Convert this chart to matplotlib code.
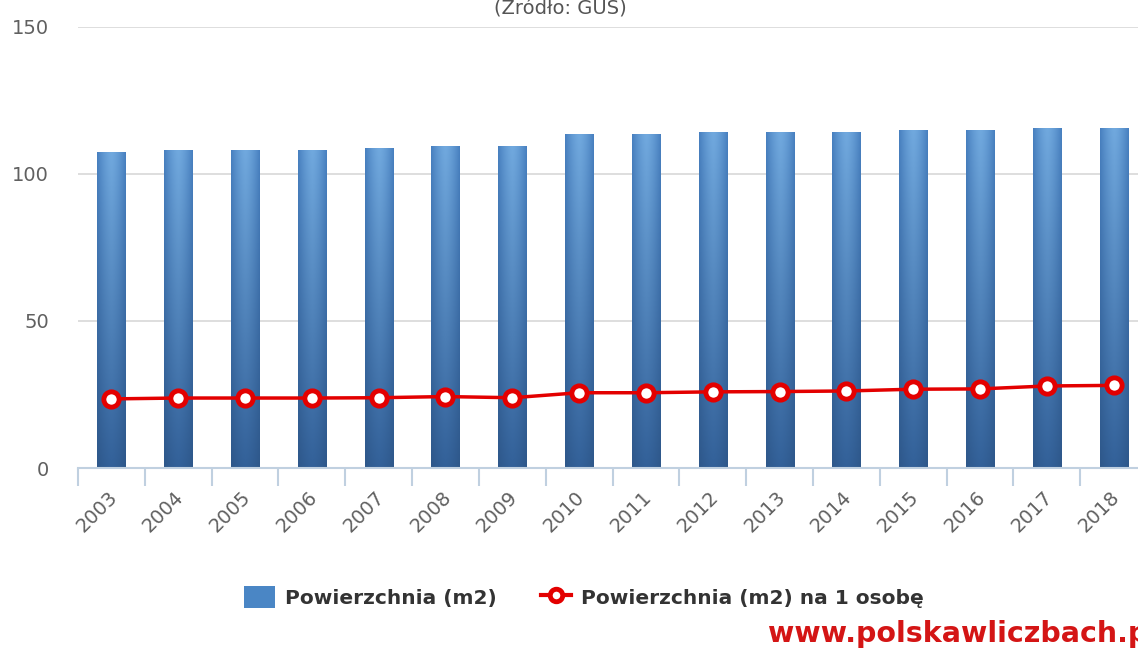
import numpy as np
import matplotlib.pyplot as plt
from matplotlib.lines import Line2D
from matplotlib.patches import Patch
from matplotlib.transforms import ScaledTranslation

# data
years = ["2003", "2004", "2005", "2006", "2007", "2008", "2009", "2010",
         "2011", "2012", "2013", "2014", "2015", "2016", "2017", "2018"]
area = [107.6, 108.3, 108.3, 108.3, 108.9, 109.6, 109.6, 113.6,
        113.6, 114.3, 114.3, 114.3, 115.0, 115.0, 115.7, 115.7]
area_per_person = [23.5, 23.8, 23.8, 23.8, 23.9, 24.3, 23.9, 25.6,
                   25.6, 25.9, 26.0, 26.2, 26.8, 26.9, 27.9, 28.1]
yticks = [0, 50, 100, 150]

fig = plt.figure(figsize=(11.38, 6.48), dpi=100)
ax = fig.add_axes([78 / 1138, 1 - 468 / 648, 1069 / 1138, 441 / 648])

x = np.arange(len(years))
bars = ax.bar(x, area, width=0.42, color="#4a86c5", zorder=2)

# gradient fill for the bars (light in the middle, darker at edges and bottom)
h = np.linspace(0, 1, 64)
v = np.linspace(0, 1, 64)
edge = np.abs(h - 0.5) * 2
top = np.array([0.44, 0.66, 0.87])
side = np.array([0.28, 0.50, 0.75])
bottom = np.array([0.20, 0.38, 0.60])
grad = np.zeros((64, 64, 3))
for i, t in enumerate(v):  # t=0 bottom, 1 top
    centre = bottom + (top - bottom) * t
    edgec = bottom * 0.9 + (side - bottom * 0.9) * t
    grad[i] = centre[None, :] * (1 - edge[:, None] ** 1.5) + edgec[None, :] * edge[:, None] ** 1.5
for b in bars:
    im = ax.imshow(grad, origin="lower", aspect="auto", zorder=2.1,
                   extent=[b.get_x(), b.get_x() + b.get_width(), 0, b.get_height()])
    im.set_clip_path(b)

ax.plot(x, area_per_person, color="#e30000", lw=2.5, zorder=3,
        marker="o", markersize=11, markerfacecolor="white",
        markeredgecolor="#e30000", markeredgewidth=3.5)

ax.set_xlim(-0.5, len(years) - 0.5)
ax.set_ylim(0, 150)
ax.set_yticks(yticks)
ax.grid(axis="y", color="#d8d8d8", lw=1.2, zorder=0)
ax.set_axisbelow(True)
for s in ["top", "right", "left"]:
    ax.spines[s].set_visible(False)
ax.spines["bottom"].set_color("#c0d0e0")
ax.spines["bottom"].set_linewidth(1.5)
ax.spines["bottom"].set_zorder(4)

ax.tick_params(axis="y", length=0, pad=21, labelsize=14, labelcolor="#606060")
ax.set_xticks(x)
ax.set_xticklabels(years, rotation=45, ha="right", rotation_mode="anchor",
                   fontsize=14, color="#606060")
ax.tick_params(axis="x", which="major", length=0, pad=14)
for lab in ax.get_xticklabels():
    lab.set_transform(lab.get_transform() + ScaledTranslation(-0.04, 0, fig.dpi_scale_trans))
ax.set_xticks(np.arange(-0.5, len(years)), minor=True)
ax.tick_params(axis="x", which="minor", length=13, width=1.5, color="#c0d0e0")

fig.text(560 / 1138, 1 - 7 / 648, "(Źródło: GUS)", ha="center", va="center",
         fontsize=14, color="#555555")

handles = [Patch(facecolor="#4a86c5", edgecolor="none"),
           Line2D([], [], color="#e30000", lw=3, marker="o", markersize=9,
                  markerfacecolor="white", markeredgecolor="#e30000", markeredgewidth=3.5)]
leg = fig.legend(handles, ["Powierzchnia (m2)", "Powierzchnia (m2) na 1 osobę"],
                 loc="center", bbox_to_anchor=(584 / 1138, 1 - 597 / 648),
                 ncol=2, frameon=False, handlelength=1.5, handleheight=1.3,
                 columnspacing=2.2, handletextpad=0.5,
                 prop={"size": 14.5, "weight": "bold"})
for t in leg.get_texts():
    t.set_color("#333333")

fig.text(768 / 1138, 1 - 634 / 648, "www.polskawliczbach.pl", ha="left", va="center",
         fontsize=20.5, fontweight="bold", color="#d41515")

fig.savefig("out.png", dpi=100)
